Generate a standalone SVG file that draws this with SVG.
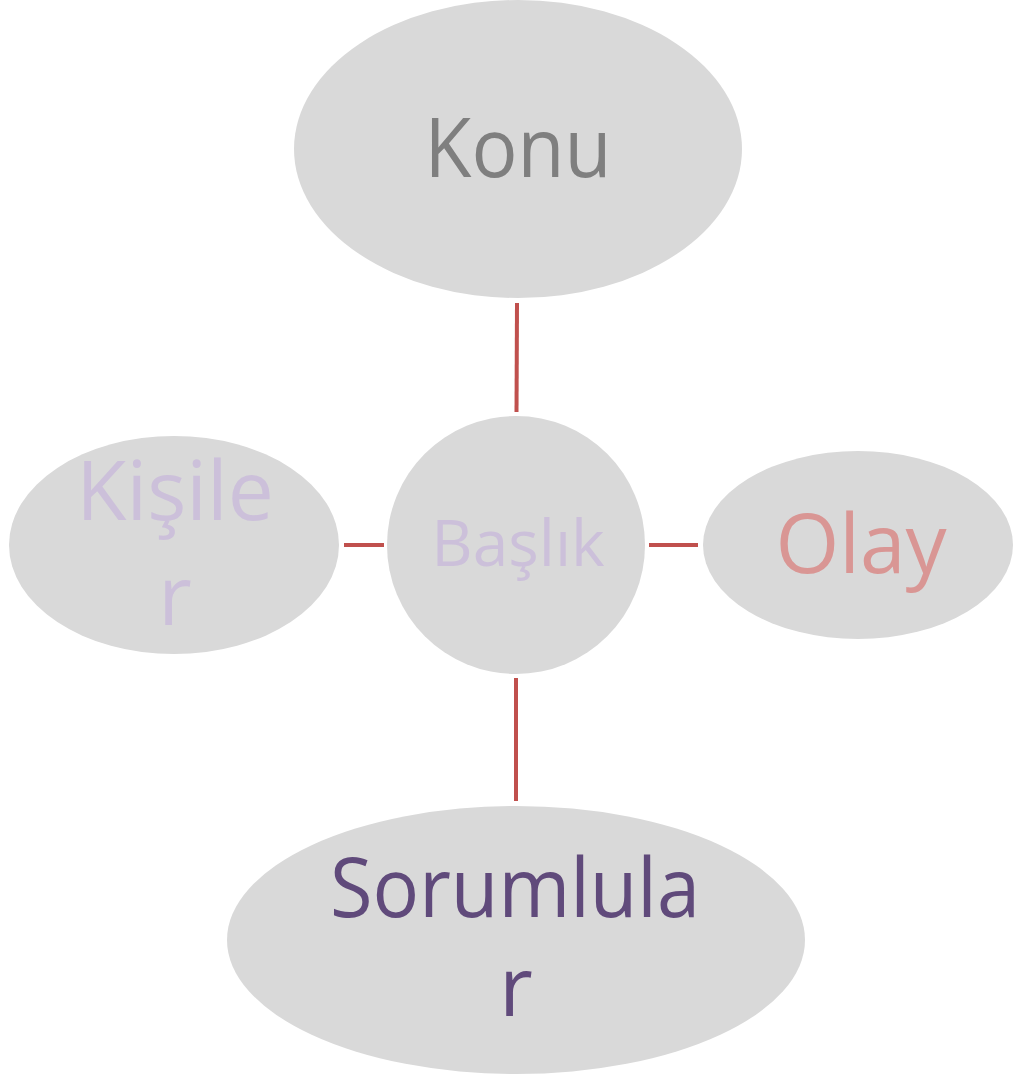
<svg xmlns="http://www.w3.org/2000/svg" width="1023" height="1077" viewBox="0 0 1023 1077">
<style>
.shape{fill:#d9d9d9}
.t{font-family:"Open Sans","Noto Sans",sans-serif;text-anchor:middle;font-size:82px}
.conn line{stroke:#c0504d;stroke-width:4}
</style>
<rect width="1023" height="1077" fill="#ffffff"/>
<g class="conn">
<line x1="517" y1="303" x2="516.5" y2="412"/>
<line x1="344" y1="545" x2="384" y2="545"/>
<line x1="649" y1="545" x2="698" y2="545"/>
<line x1="516" y1="678" x2="516" y2="801"/>
</g>
<g id="konu">
<ellipse class="shape" cx="518" cy="149" rx="224" ry="149"/>
<text class="t" x="518" y="177" fill="#7f7f7f" textLength="187" lengthAdjust="spacingAndGlyphs">Konu</text>
</g>
<g id="baslik">
<circle class="shape" cx="516" cy="545" r="129"/>
<text class="t" x="518" y="566" fill="#ccc0da" style="font-size:64px">Başlık</text>
</g>
<g id="kisiler">
<ellipse class="shape" cx="174" cy="545" rx="165" ry="109"/>
<text class="t" x="175" y="520" fill="#ccc0da">Kişile</text>
<text class="t" x="175" y="625" fill="#ccc0da">r</text>
</g>
<g id="olay">
<ellipse class="shape" cx="858" cy="545" rx="155" ry="94"/>
<text class="t" x="861" y="573" fill="#d99694">Olay</text>
</g>
<g id="sorumlular">
<ellipse class="shape" cx="516" cy="940" rx="289" ry="134"/>
<text class="t" x="515" y="917" fill="#604a7b" textLength="370" lengthAdjust="spacingAndGlyphs">Sorumlula</text>
<text class="t" x="516" y="1016" fill="#604a7b">r</text>
</g>
</svg>
